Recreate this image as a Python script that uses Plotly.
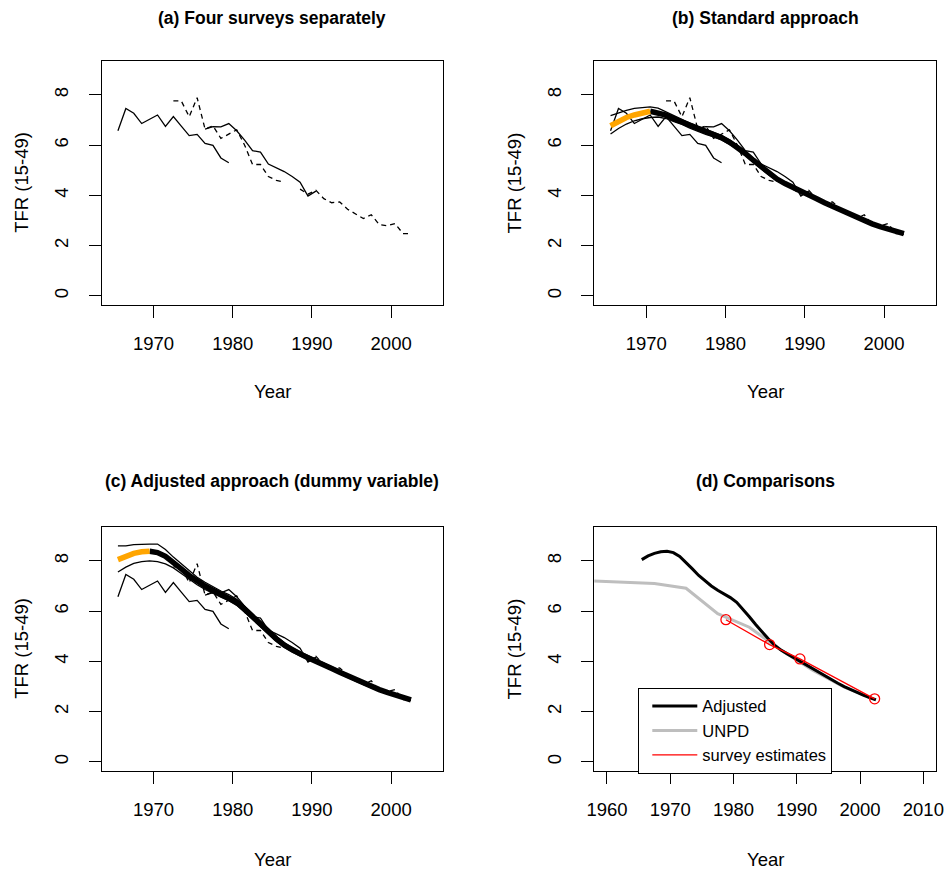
import plotly.graph_objects as go

# ---------------- data ----------------
s1_years = [1965.5, 1966.5, 1967.5, 1968.5, 1969.5, 1970.5, 1971.5, 1972.5, 1973.5, 1974.5,
            1975.5, 1976.5, 1977.5, 1978.5, 1979.5]
s1_tfr = [6.57, 7.46, 7.27, 6.86, 7.03, 7.2, 6.75, 7.14, 6.76, 6.38, 6.43, 6.07, 5.99, 5.49, 5.30]

s2_years = [1972.5, 1973.5, 1974.5, 1975.5, 1976.5, 1977.5, 1978.5, 1979.5, 1980.5, 1981.5,
            1982.5, 1983.5, 1984.5, 1985.5, 1986.5]
s2_tfr = [7.76, 7.76, 7.13, 7.89, 6.64, 6.77, 6.27, 6.45, 6.61, 6.0, 5.23, 5.23, 4.75, 4.6, 4.53]

s3_years = [1976.5, 1977.5, 1978.5, 1979.5, 1980.5, 1981.5, 1982.5, 1983.5, 1984.5, 1985.5,
            1986.5, 1987.5, 1988.5, 1989.5, 1990.5]
s3_tfr = [6.64, 6.74, 6.73, 6.86, 6.57, 6.2, 5.78, 5.72, 5.25, 5.1, 4.95, 4.75, 4.53, 3.97, 4.17]

s4_years = [1988.5, 1989.5, 1990.5, 1991.5, 1992.5, 1993.5, 1994.5, 1995.5, 1996.5, 1997.5,
            1998.5, 1999.5, 2000.5, 2001.5, 2002.5]
s4_tfr = [4.25, 4.05, 4.2, 3.87, 3.71, 3.74, 3.45, 3.27, 3.08, 3.23, 2.84, 2.79, 2.88, 2.48, 2.48]

fit_years = [1965.5, 1966.5, 1967.5, 1968.5, 1969.5, 1970.5, 1971.5, 1972.5, 1973.5, 1974.5,
             1975.5, 1976.5, 1977.5, 1978.5, 1979.5, 1980.5, 1981.5, 1982.5, 1983.5, 1984.5,
             1985.5, 1986.5, 1987.5, 1988.5, 1989.5, 1990.5, 1991.5, 1992.5, 1993.5, 1994.5,
             1995.5, 1996.5, 1997.5, 1998.5, 1999.5, 2000.5, 2001.5, 2002.5]

# (b) standard approach
std_fit = [6.77, 6.95, 7.1, 7.2, 7.28, 7.35, 7.3, 7.2, 7.05, 6.93,
           6.78, 6.65, 6.52, 6.42, 6.3, 6.12, 5.92, 5.67, 5.4, 5.13,
           4.87, 4.65, 4.47, 4.33, 4.18, 4.02, 3.87, 3.71, 3.56, 3.41,
           3.27, 3.13, 3.0, 2.87, 2.76, 2.65, 2.56, 2.48]
std_upper = [7.17, 7.28, 7.38, 7.46, 7.5, 7.52, 7.47, 7.32, 7.16, 7.03,
             6.88, 6.75, 6.62, 6.51, 6.39, 6.21, 6.0, 5.75, 5.48, 5.2,
             4.94, 4.72, 4.53, 4.39, 4.23, 4.07, 3.91, 3.75, 3.6, 3.45,
             3.3, 3.16, 3.03, 2.9, 2.79, 2.68, 2.59, 2.51]
std_lower = [6.44, 6.66, 6.84, 6.97, 7.05, 7.1, 7.12, 7.06, 6.94, 6.83,
             6.68, 6.55, 6.43, 6.33, 6.21, 6.03, 5.84, 5.59, 5.32, 5.06,
             4.8, 4.58, 4.41, 4.27, 4.13, 3.97, 3.83, 3.67, 3.52, 3.37,
             3.24, 3.1, 2.97, 2.84, 2.73, 2.62, 2.53, 2.45]

# (c) adjusted approach
adj_fit = [8.05, 8.2, 8.3, 8.36, 8.38, 8.33, 8.18, 7.95, 7.68, 7.42,
           7.2, 7.0, 6.83, 6.68, 6.54, 6.35, 6.08, 5.78, 5.47, 5.18,
           4.9, 4.65, 4.45, 4.3, 4.15, 4.02, 3.88, 3.72, 3.57, 3.42,
           3.27, 3.13, 3.0, 2.88, 2.77, 2.66, 2.56, 2.47]
adj_upper = [8.6, 8.6, 8.65, 8.67, 8.67, 8.67, 8.45, 8.15, 7.88, 7.6,
             7.35, 7.15, 6.97, 6.8, 6.66, 6.47, 6.2, 5.9, 5.58, 5.28,
             5.0, 4.75, 4.54, 4.38, 4.23, 4.09, 3.95, 3.79, 3.63, 3.48,
             3.33, 3.19, 3.05, 2.93, 2.81, 2.7, 2.6, 2.5]
adj_lower = [7.56, 7.75, 7.9, 7.97, 8.0, 7.97, 7.88, 7.72, 7.5, 7.26,
             7.05, 6.86, 6.7, 6.56, 6.42, 6.23, 5.96, 5.66, 5.36, 5.08,
             4.8, 4.56, 4.37, 4.22, 4.07, 3.95, 3.81, 3.65, 3.51, 3.36,
             3.21, 3.07, 2.95, 2.83, 2.73, 2.62, 2.52, 2.44]

std_orange_n = 6   # extrapolated part shown in orange, panel (b)
adj_orange_n = 5   # extrapolated part shown in orange, panel (c)

unpd_years = [1952.5, 1957.5, 1962.5, 1967.5, 1972.5, 1977.5, 1982.5, 1987.5, 1992.5, 1997.5, 2002.5]
unpd_tfr = [7.25, 7.2, 7.15, 7.1, 6.91, 5.9, 5.36, 4.45, 3.65, 2.98, 2.48]

svy_years = [1978.8, 1985.7, 1990.5, 2002.3]
svy_tfr = [5.66, 4.67, 4.1, 2.51]

titles = ["(a) Four surveys separately", "(b) Standard approach",
          "(c) Adjusted approach (dummy variable)", "(d) Comparisons"]
x_ticks_abc = [1970, 1980, 1990, 2000]
x_ticks_d = [1960, 1970, 1980, 1990, 2000, 2010]
y_ticks = [0, 2, 4, 6, 8]

# ---------------- figure ----------------
FONT = "Liberation Sans, Arial, Helvetica, sans-serif"
W, H = 949, 871
fig = go.Figure()

def add_surveys(xa, ya):
    for yrs, vals, dash in [(s1_years, s1_tfr, "solid"), (s2_years, s2_tfr, "5px,4px"),
                            (s3_years, s3_tfr, "solid"), (s4_years, s4_tfr, "5px,4px")]:
        fig.add_trace(go.Scatter(x=yrs, y=vals, mode="lines", xaxis=xa, yaxis=ya,
                                 line=dict(color="black", width=1.3, dash=dash),
                                 showlegend=False, hoverinfo="skip"))

def add_fit(xa, ya, fit, up, lo, n_or):
    for band in (up, lo):
        fig.add_trace(go.Scatter(x=fit_years, y=band, mode="lines", xaxis=xa, yaxis=ya,
                                 line=dict(color="black", width=1.3),
                                 showlegend=False, hoverinfo="skip"))
    fig.add_trace(go.Scatter(x=fit_years[n_or - 1:], y=fit[n_or - 1:], mode="lines",
                             xaxis=xa, yaxis=ya, line=dict(color="black", width=5.5),
                             showlegend=False, hoverinfo="skip"))
    fig.add_trace(go.Scatter(x=fit_years[:n_or], y=fit[:n_or], mode="lines",
                             xaxis=xa, yaxis=ya, line=dict(color="#FFA500", width=5.5),
                             showlegend=False, hoverinfo="skip"))

# (a)
add_surveys("x", "y")
# (b)
add_surveys("x2", "y2")
add_fit("x2", "y2", std_fit, std_upper, std_lower, std_orange_n)
# (c)
add_surveys("x3", "y3")
add_fit("x3", "y3", adj_fit, adj_upper, adj_lower, adj_orange_n)
# (d)
fig.add_trace(go.Scatter(x=unpd_years, y=unpd_tfr, mode="lines", xaxis="x4", yaxis="y4",
                         name="UNPD", legendrank=2,
                         line=dict(color="#BEBEBE", width=3)))
fig.add_trace(go.Scatter(x=fit_years, y=adj_fit, mode="lines", xaxis="x4", yaxis="y4",
                         name="Adjusted", legendrank=1,
                         line=dict(color="black", width=3)))
fig.add_trace(go.Scatter(x=svy_years, y=svy_tfr, mode="lines", xaxis="x4", yaxis="y4",
                         name="survey estimates", legendrank=3,
                         line=dict(color="#FF0000", width=1.3)))
fig.add_trace(go.Scatter(x=svy_years, y=svy_tfr, mode="markers", xaxis="x4", yaxis="y4",
                         showlegend=False,
                         marker=dict(symbol="circle-open", size=10, color="#FF0000",
                                     line=dict(width=1.3, color="#FF0000"))))

# ---------------- layout ----------------
px_l = (101.7, 594.3)
px_r = (443.0, 936.0)
py_t = (60.7, 526.7)
py_b = (305.0, 771.0)

def xd(col):
    return [px_l[col] / W, px_r[col] / W]

def yd(row):
    return [1 - py_b[row] / H, 1 - py_t[row] / H]

def xaxis(col, rng, ticks, anchor):
    return dict(domain=xd(col), range=rng, anchor=anchor, tickvals=ticks,
                showline=True, mirror=True, linecolor="black", linewidth=1,
                ticks="outside", ticklen=12, tickwidth=1, tickcolor="black",
                showgrid=False, zeroline=False, ticklabelstandoff=10, automargin=False,
                tickfont=dict(family=FONT, size=18.5, color="black"))

def yaxis(row, anchor):
    return dict(domain=yd(row), range=[-0.36, 9.36], anchor=anchor, tickvals=y_ticks,
                tickangle=-90,
                showline=True, mirror=True, linecolor="black", linewidth=1,
                ticks="outside", ticklen=12, tickwidth=1, tickcolor="black",
                showgrid=False, zeroline=False, ticklabelstandoff=13, automargin=False,
                tickfont=dict(family=FONT, size=18.5, color="black"))

rng_abc = [1963.45, 2006.55]
rng_d = [1958.0, 2012.0]

annotations = []
centers = [((px_l[0] + px_r[0]) / 2, 0), ((px_l[1] + px_r[1]) / 2, 0),
           ((px_l[0] + px_r[0]) / 2, 1), ((px_l[1] + px_r[1]) / 2, 1)]
title_y = (18, 481)
year_y = (391.5, 859)
for i, (cx, row) in enumerate(centers):
    annotations.append(dict(text="<b>" + titles[i] + "</b>", x=cx / W, y=1 - title_y[row] / H,
                            xref="paper", yref="paper", xanchor="center", yanchor="middle",
                            showarrow=False, font=dict(family=FONT, size=17.5, color="black")))
    annotations.append(dict(text="Year", x=cx / W, y=1 - year_y[row] / H,
                            xref="paper", yref="paper", xanchor="center", yanchor="middle",
                            showarrow=False, font=dict(family=FONT, size=18.5, color="black")))
    cy = (py_t[row] + py_b[row]) / 2
    lx = 22 if i % 2 == 0 else 22 + (px_l[1] - px_l[0])
    annotations.append(dict(text="TFR (15-49)", x=lx / W, y=1 - cy / H, textangle=-90,
                            xref="paper", yref="paper", xanchor="center", yanchor="middle",
                            showarrow=False, font=dict(family=FONT, size=18.5, color="black")))

fig.update_layout(
    width=W, height=H, margin=dict(l=0, r=0, t=0, b=0, autoexpand=False),
    paper_bgcolor="white", plot_bgcolor="white",
    xaxis=xaxis(0, rng_abc, x_ticks_abc, "y"), yaxis=yaxis(0, "x"),
    xaxis2=xaxis(1, rng_abc, x_ticks_abc, "y2"), yaxis2=yaxis(0, "x2"),
    xaxis3=xaxis(0, rng_abc, x_ticks_abc, "y3"), yaxis3=yaxis(1, "x3"),
    xaxis4=xaxis(1, rng_d, x_ticks_d, "y4"), yaxis4=yaxis(1, "x4"),
    annotations=annotations,
    showlegend=True,
    legend=dict(x=638.3 / W, y=1 - 687.7 / H, xanchor="left", yanchor="top",
                bordercolor="black", borderwidth=1, bgcolor="white",
                font=dict(family=FONT, size=16.5, color="black"),
                tracegroupgap=0, itemwidth=45, indentation=8),
    font=dict(family=FONT, color="black"),
)

fig.write_html("out.html")
